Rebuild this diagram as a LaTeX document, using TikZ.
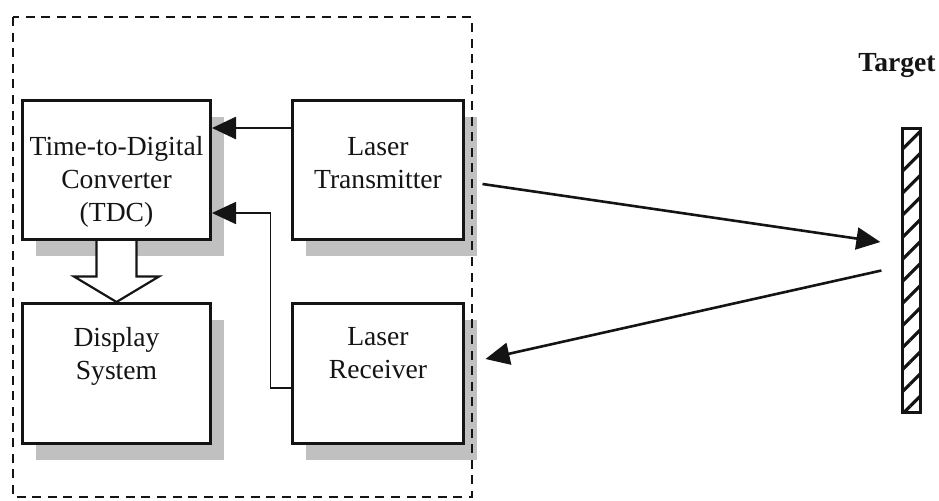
\documentclass[tikz,border=0pt]{standalone}
\usepackage{fontspec}
\setmainfont{Liberation Serif}
\usetikzlibrary{arrows.meta,positioning,calc,shadows,patterns.meta}
\definecolor{tofink}{RGB}{20,20,20}
\definecolor{tofshadow}{RGB}{192,192,192}
\tikzset{
  tofblock/.style={draw=tofink, line width=1.5pt, fill=white, inner sep=0pt,
    minimum height=69.5pt, drop shadow={shadow xshift=6.5pt, shadow yshift=-8pt, fill=tofshadow, opacity=1}},
  tofwide/.style={tofblock, minimum width=94pt},
  tofnarrow/.style={tofblock, minimum width=85.5pt},
  toftext/.style={align=center, inner sep=0pt, text=tofink, font=\fontsize{13.8pt}{16.5pt}\selectfont},
  arr/.style={-{Triangle[length=12pt,width=11pt]}, line width=1.3pt, tofink},
  thinarr/.style={-{Triangle[length=12pt,width=11pt]}, line width=0.85pt, tofink},
  hollowarr/.style={draw=tofink, fill=white, line width=1.1pt, line join=miter},
  sysframe/.style={draw=tofink, line width=1pt, dash pattern=on 4.5pt off 3.3pt},
  targetbar/.style={draw=tofink, line width=1.3pt, minimum width=9pt, minimum height=142pt, inner sep=0pt,
    pattern={Lines[angle=45,distance=7.8pt,line width=1.6pt]}, pattern color=tofink}
}
\begin{document}
\begin{tikzpicture}[x=0.5pt,y=-0.5pt]
  \useasboundingbox (0,0) rectangle (939,500);
  \node[tofwide, label={[toftext, below=18.5pt]north:{Time-to-Digital\\Converter\\(TDC)}}] (tdc) at (116.5,170) {};
  \node[tofnarrow, right=39.5pt of tdc, label={[toftext, below=18.8pt]north:{Laser\\Transmitter}}] (tx) {};
  \node[tofwide, minimum height=70pt, below=30.5pt of tdc, label={[toftext, below=12.5pt]north:{Display\\System}}] (disp) {};
  \node[tofnarrow, minimum height=70pt, below=30.5pt of tx, label={[toftext, below=12.3pt]north:{Laser\\Receiver}}] (rx) {};
  \node[targetbar] (tgt) at (911.5,270.5) {};
  \node[toftext, font=\fontsize{13.8pt}{16.5pt}\selectfont\bfseries, above=24.5pt of tgt, xshift=-7.25pt] (tgtname) {Target};
  \draw[arr] ([yshift=21pt]tx.west) -- ([yshift=21pt]tdc.east);
  \draw[thinarr] ([yshift=-7.25pt]rx.west) -- ++(-10.25pt,0) |- ([yshift=-21.5pt]tdc.east);
  \draw[hollowarr] ([xshift=-10pt]tdc.south) |- ([xshift=-21.25pt,yshift=12.75pt]disp.north) -- (disp.north)
    -- ([xshift=21.25pt,yshift=12.75pt]disp.north) -| ([xshift=10pt]tdc.south);
  \draw[arr] ([xshift=8.75pt,yshift=-7pt]tx.east) -- ([xshift=-10.25pt,yshift=14.25pt]tgt.west);
  \draw[arr] ([xshift=-9.75pt]tgt.west) -- ([xshift=10.25pt,yshift=7.25pt]rx.east);
  \draw[sysframe] (13,17) rectangle (472,497);
\end{tikzpicture}
\end{document}
